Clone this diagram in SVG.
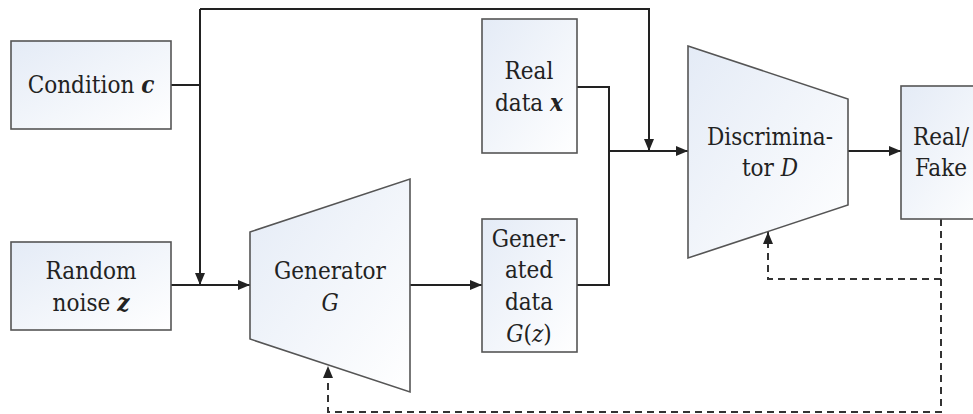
<svg xmlns="http://www.w3.org/2000/svg" width="973" height="414" viewBox="0 0 973 414">
<defs>
<linearGradient id="fill" x1="0" y1="0" x2="1" y2="1">
<stop offset="0" stop-color="#e4ebf6"/>
<stop offset="1" stop-color="#ffffff"/>
</linearGradient>
<marker id="arr" viewBox="0 0 12 10" refX="12" refY="5" markerWidth="12" markerHeight="10" markerUnits="userSpaceOnUse" orient="auto">
<path d="M0,0 L12,5 L0,10 Z" fill="#222"/>
</marker>
</defs>
<style>
.box{fill:url(#fill);stroke:#555;stroke-width:1.6}
.t{font-family:'DejaVu Serif Condensed','DejaVu Serif',serif;font-stretch:condensed;font-size:24px;fill:#222;text-anchor:middle}
.c{fill:none;stroke:#222;stroke-width:2}
.d{fill:none;stroke:#333;stroke-width:2;stroke-dasharray:7,5}
.i{font-style:italic}
.bi{font-style:italic;font-weight:bold}
</style>
<g id="connectors">
<path class="c" d="M171,85 H200"/>
<path class="c" d="M200,9 V285" marker-end="url(#arr)"/>
<path class="c" d="M200,9 H649 V151" marker-end="url(#arr)"/>
<path class="c" d="M171,285 H250" marker-end="url(#arr)"/>
<path class="c" d="M410,285 H482" marker-end="url(#arr)"/>
<path class="c" d="M577,87 H609 V285 H577"/>
<path class="c" d="M609,151 H688" marker-end="url(#arr)"/>
<path class="c" d="M848,151 H901" marker-end="url(#arr)"/>
<path class="d" d="M941,219 V412 H328 V366" marker-end="url(#arr)"/>
<path class="d" d="M941,279 H768 V232" marker-end="url(#arr)"/>
</g>
<g id="condition">
<rect class="box" x="11" y="41" width="160" height="88"/>
<text class="t" x="91" y="93">Condition <tspan class="bi">c</tspan></text>
</g>
<g id="noise">
<rect class="box" x="11" y="242" width="160" height="88"/>
<text class="t" x="91" y="279">Random</text>
<text class="t" x="91" y="311">noise <tspan class="bi">z</tspan></text>
</g>
<g id="generator">
<polygon class="box" points="250,232 410,179 410,392 250,339"/>
<text class="t" x="330" y="279">Generator</text>
<text class="t" x="330" y="311"><tspan class="i">G</tspan></text>
</g>
<g id="realdata">
<rect class="box" x="482" y="19" width="95" height="134"/>
<text class="t" x="529" y="79">Real</text>
<text class="t" x="529" y="111">data <tspan class="bi">x</tspan></text>
</g>
<g id="gendata">
<rect class="box" x="482" y="219" width="95" height="133"/>
<text class="t" x="529" y="247">Gener-</text>
<text class="t" x="529" y="278">ated</text>
<text class="t" x="529" y="310">data</text>
<text class="t" x="529" y="342"><tspan class="i">G</tspan>(<tspan class="i">z</tspan>)</text>
</g>
<g id="discriminator">
<polygon class="box" points="688,46 848,99 848,205 688,258"/>
<text class="t" x="770" y="145">Discrimina-</text>
<text class="t" x="770" y="176">tor <tspan class="i">D</tspan></text>
</g>
<g id="realfake">
<rect class="box" x="901" y="86" width="90" height="133"/>
<text class="t" x="941" y="145">Real/</text>
<text class="t" x="941" y="176">Fake</text>
</g>
</svg>
